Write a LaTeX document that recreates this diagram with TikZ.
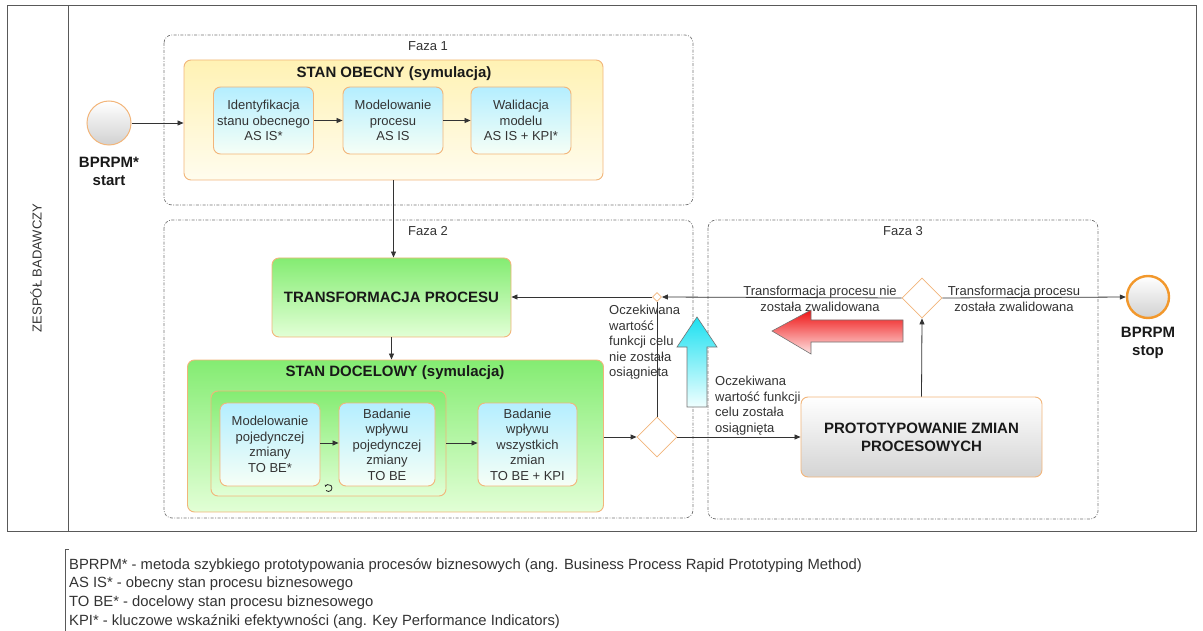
\documentclass[tikz,border=0pt]{standalone}
\usepackage{fontspec}
\setmainfont{Liberation Sans}
\usetikzlibrary{arrows.meta,shapes.geometric}

\definecolor{ramka}{HTML}{F2B57A}
\definecolor{zolty}{HTML}{FFF2B4}
\definecolor{zoltyJ}{HTML}{FFFCEE}
\definecolor{cyjan}{HTML}{B4EEFF}
\definecolor{cyjanJ}{HTML}{F6FFF6}
\definecolor{zielony}{HTML}{84EC72}
\definecolor{zielonyJ}{HTML}{E2FFD6}
\definecolor{stopka}{HTML}{F2982C}

\begin{document}
\begin{tikzpicture}[x=1pt,y=-1pt,
    linia/.style={draw=black!80,line width=0.8pt},
    strz/.style={linia,-{Triangle[length=6pt,width=5pt]}},
    txt/.style={font=\fontsize{13}{15.5}\selectfont,align=center,text=black!80},
    tytul/.style={font=\bfseries\fontsize{15}{18}\selectfont,align=center,text=black!90},
    faza/.style={draw=black!55,line width=0.7pt,dash pattern=on 3pt off 1.5pt on 0.8pt off 1.5pt,rounded corners=8pt},
    blok/.style={draw=ramka,line width=0.9pt,rounded corners=7pt,inner sep=0pt},
    zadanie/.style={blok,txt,top color=cyjan,bottom color=cyjanJ},
    etap/.style={blok,top color=zielony,bottom color=zielonyJ},
    bramka/.style={diamond,draw=ramka,fill=white,line width=0.8pt,inner sep=0pt,minimum size=40pt},
    duza/.style={draw=black!55,line width=0.6pt}]

\useasboundingbox (0,0) rectangle (1203,631);

\draw[black!65,line width=1pt] (7,6) rectangle (1196,531);
\draw[black!65,line width=1pt] (68,6) -- (68,531);
\node[txt,rotate=90] (zespol) at (36,268) {ZESPÓŁ BADAWCZY};

\draw[faza] (164,35) rectangle (693,205);
\draw[faza] (164,220) rectangle (693,518);
\draw[faza] (708,220) rectangle (1098,519);
\node[txt] (faza1) at (428,46) {Faza 1};
\node[txt] (faza2) at (428,231) {Faza 2};
\node[txt] (faza3) at (903,231) {Faza 3};

\node[circle,draw=ramka,line width=1pt,top color=white,bottom color=black!18,minimum size=44pt] (start) at (109,123) {};
\node[tytul] (startT) at (109,171) {BPRPM*\\start};

\node[blok,top color=zolty,bottom color=zoltyJ,minimum width=419pt,minimum height=120pt] (obecny) at (393.5,120) {};
\node[tytul] (obecnyT) at (394,74) {STAN OBECNY (symulacja)};
\node[zadanie,minimum width=100pt,minimum height=67pt] (ident) at (263.5,120.5) {Identyfikacja\\stanu obecnego\\AS IS*};
\node[zadanie,minimum width=100pt,minimum height=67pt] (model) at (393,120.5) {Modelowanie\\procesu\\AS IS};
\node[zadanie,minimum width=100pt,minimum height=67pt] (walid) at (521,120.5) {Walidacja\\modelu\\AS IS + KPI*};

\node[etap,minimum width=239pt,minimum height=79pt] (trans) at (391.5,297.5) {};
\node[tytul] (transT) at (391.5,297) {TRANSFORMACJA PROCESU};

\node[etap,minimum width=416pt,minimum height=152pt] (docel) at (395.5,436) {};
\node[tytul] (docelT) at (395,373) {STAN DOCELOWY (symulacja)};
\node[etap,minimum width=235pt,minimum height=105pt] (grupa) at (328.5,443.5) {};
\node[zadanie,minimum width=100pt,minimum height=83pt] (zmianaA) at (270,444.5) {Modelowanie\\pojedynczej\\zmiany\\TO BE*};
\node[zadanie,minimum width=96pt,minimum height=83pt] (zmianaB) at (387,444.5) {Badanie\\wpływu\\pojedynczej\\zmiany\\TO BE};
\node[zadanie,minimum width=99pt,minimum height=83pt] (zmianaC) at (527.5,444.5) {Badanie\\wpływu\\wszystkich\\zmian\\TO BE + KPI};
\draw[black!85,line width=0.8pt,-{Stealth[length=2.2pt,width=2.5pt]}] (328.5,488) ++(135:3.5) arc[start angle=135,end angle=-160,radius=3.5];

\node[bramka] (d1) at (657,437) {};
\node[bramka,minimum size=9pt] (d0) at (657,297) {};
\node[bramka] (d2) at (922,298) {};

\node[blok,top color=white,bottom color=black!17,minimum width=241pt,minimum height=80pt] (proto) at (921.5,437) {};
\node[tytul] (protoT) at (921.5,437) {PROTOTYPOWANIE ZMIAN\\PROCESOWYCH};

\node[circle,draw=stopka,line width=2.4pt,top color=white,bottom color=black!18,minimum size=42pt] (stop) at (1148,297) {};
\node[tytul] (stopT) at (1148,343) {BPRPM\\stop};

\draw[strz] (start) -- (start -| obecny.west);
\draw[strz] (ident) -- (model);
\draw[strz] (model) -- (walid);
\draw[strz] (obecny.south) -- (obecny.south |- trans.north);
\draw[strz] (trans.south) -- (trans.south |- docel.north);
\draw[strz] (zmianaA.east |- 0,443) -- (zmianaB.west |- 0,443);
\draw[strz] (grupa.east |- 0,443) -- (zmianaC.west |- 0,443);
\draw[strz] (docel.east |- d1) -- (d1);
\draw[linia] (d1.north) -- (d0.south);
\draw[strz] (d0.west) -- (d0 -| trans.east);
\draw[strz] (d2.west) -- (d0.east);
\draw[strz] (d1.east) -- (d1 -| proto.west);
\draw[strz] (proto.north) -- (d2.south);
\draw[strz] (d2.east) -- (stop.west);

\node[txt,align=left,anchor=north west,inner sep=0pt] (nieOsiag) at (609,305) {Oczekiwana\\wartość\\funkcji celu\\nie została\\osiągnieta};
\node[txt,align=left,anchor=north west,inner sep=0pt] (osiag) at (715,376) {Oczekiwana\\wartość funkcji\\celu została\\osiągnięta};
\node[txt] (nieZwal) at (820,299) {Transformacja procesu nie\\została zwalidowana};
\node[txt] (zwal) at (1014,299) {Transformacja procesu\\została zwalidowana};

\draw[duza,top color={rgb,255:red,238;green,18;blue,18},bottom color={rgb,255:red,255;green,228;blue,228}]
  (772,331) -- (811,310) -- (811,320) -- (903,320) -- (903,342) -- (811,342) -- (811,354) -- cycle;
\draw[duza,top color={rgb,255:red,28;green,224;blue,240},bottom color={rgb,255:red,240;green,255;blue,255}]
  (697,317) -- (717,347) -- (707,347) -- (707,407) -- (687,407) -- (687,347) -- (677,347) -- cycle;

\draw[black!65,line width=0.8pt] (69,549) -- (65,549) -- (65,631);
\node[txt,align=left,anchor=north west,inner sep=0pt,font=\fontsize{14.8}{18.7}\selectfont] (legenda) at (69,558)
  {BPRPM* - metoda szybkiego prototypowania procesów biznesowych (ang. Business Process Rapid Prototyping Method)\\
   AS IS* - obecny stan procesu biznesowego\\
   TO BE* - docelowy stan procesu biznesowego\\
   KPI* - kluczowe wskaźniki efektywności (ang. Key Performance Indicators)};
\end{tikzpicture}
\end{document}
